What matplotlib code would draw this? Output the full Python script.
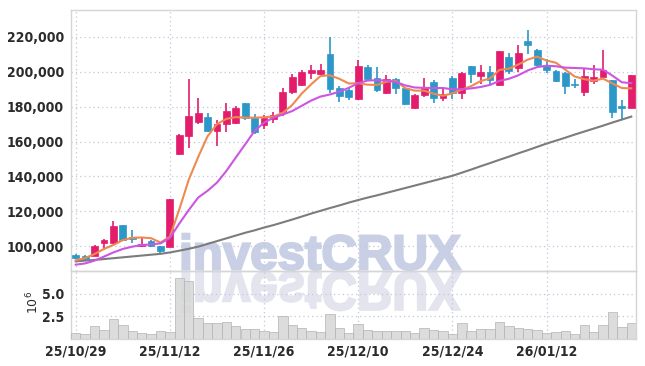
import numpy as np
import matplotlib
matplotlib.use('Agg')
import matplotlib.pyplot as plt
import matplotlib.transforms as mtransforms
from matplotlib import font_manager as fm
from matplotlib.textpath import TextPath
from matplotlib.patches import PathPatch
from matplotlib.ticker import FuncFormatter

# trading days (yy/mm/dd)
dates = ['25/10/29', '25/10/30', '25/10/31', '25/11/03', '25/11/04', '25/11/05', '25/11/06', '25/11/07',
         '25/11/10', '25/11/11', '25/11/12', '25/11/13', '25/11/14', '25/11/17', '25/11/18', '25/11/19',
         '25/11/20', '25/11/21', '25/11/24', '25/11/25', '25/11/26', '25/11/27', '25/11/28', '25/12/01',
         '25/12/02', '25/12/03', '25/12/04', '25/12/05', '25/12/08', '25/12/09', '25/12/10', '25/12/11',
         '25/12/12', '25/12/15', '25/12/16', '25/12/17', '25/12/18', '25/12/19', '25/12/22', '25/12/23',
         '25/12/24', '25/12/26', '25/12/29', '25/12/30', '26/01/02', '26/01/05', '26/01/06', '26/01/07',
         '26/01/08', '26/01/09', '26/01/12', '26/01/13', '26/01/14', '26/01/15', '26/01/16', '26/01/19',
         '26/01/20', '26/01/21', '26/01/22', '26/01/23']
tick_labels = ['25/10/29', '25/11/12', '25/11/26', '25/12/10', '25/12/24', '26/01/12']

open_ = [95000, 94400, 94400, 102000, 101500, 112200, 105300, 99800, 102600, 100000,
         99600, 153000, 163200, 171400, 174100, 166000, 169900, 170800, 181900, 173300,
         169500, 173000, 177100, 188600, 192700, 199400, 198900, 210400, 190700, 189600,
         184200, 202700, 196300, 188000, 195700, 190500, 179400, 186500, 194100, 185100,
         196300, 188000, 203300, 197600, 199900, 192600, 208500, 202300, 217600, 212300,
         203700, 200700, 199500, 193200, 188600, 194700, 197200, 195200, 180400, 179100]
high = [95400, 95000, 100500, 104000, 114100, 112300, 109200, 104600, 103500, 100200,
        127000, 164300, 195700, 184800, 176200, 172200, 181900, 180400, 182300, 176000,
        175200, 176800, 190500, 198600, 200900, 203700, 204300, 219900, 191900, 191000,
        206600, 203700, 202700, 198200, 196600, 191000, 187400, 196600, 195100, 191300,
        197600, 199900, 203500, 203700, 203600, 212000, 210600, 215200, 223800, 213200,
        207200, 200900, 199700, 195700, 202100, 203700, 212300, 195500, 183700, 198300]
low = [92800, 92000, 94000, 97700, 101000, 102800, 102000, 99600, 99500, 95800,
       99500, 152500, 156200, 170200, 165500, 157300, 165700, 170300, 172500, 164500,
       167200, 170700, 174700, 187400, 191800, 195700, 198100, 187600, 182800, 183800,
       183700, 195200, 188600, 187100, 187400, 181200, 178500, 185500, 182300, 183300,
       184200, 184200, 193700, 192800, 193200, 191800, 199000, 199900, 210500, 203300,
       199100, 194300, 187400, 190500, 186100, 192800, 197000, 173300, 172900, 179000]
close = [93100, 92500, 100200, 103600, 111500, 103400, 104200, 101100, 100200, 97300,
         126900, 163800, 174700, 176400, 166100, 169900, 177500, 179400, 173300, 165700,
         173500, 175200, 188400, 197000, 199900, 200900, 200900, 190100, 186400, 185800,
         203300, 195700, 189600, 195700, 190500, 181700, 186700, 190500, 185100, 187100,
         187800, 199300, 198900, 199900, 195200, 211900, 200700, 210600, 215300, 204200,
         201000, 194700, 192100, 192600, 197600, 197000, 200800, 177100, 179400, 198100]
volume_m = [0.58, 0.47, 1.39, 0.94, 2.17, 1.5, 0.83, 0.61, 0.5, 0.83,
            0.76, 6.69, 6.39, 2.24, 1.76, 1.76, 1.83, 1.39, 1.06, 1.06,
            0.83, 0.72, 2.5, 1.5, 1.13, 0.83, 0.72, 2.72, 1.13, 0.64,
            1.57, 0.94, 0.83, 0.83, 0.83, 0.83, 0.57, 1.13, 0.94, 0.83,
            0.46, 1.68, 0.83, 1.02, 1.02, 1.8, 1.39, 1.17, 1.06, 0.94,
            0.64, 0.72, 0.83, 0.5, 1.46, 0.76, 1.46, 2.91, 1.28, 1.68]

# moving averages
ma_short = [91800, 93100, 95400, 98300, 100600, 103400, 104700, 104900, 104500, 102000,
            105300, 121000, 138000, 151000, 163000, 170000, 173000, 174000, 173700, 173700,
            173900, 174300, 176500, 181000, 187500, 192800, 197600, 198000, 196000, 193300,
            193500, 192600, 192500, 194300, 194800, 190600, 189200, 189200, 187500, 186300,
            187600, 189800, 191800, 194700, 196200, 201100, 201800, 204200, 207000, 208700,
            206500, 205200, 201200, 197300, 195800, 194900, 196100, 193300, 190700, 190500]
ma_mid = [89300, 90000, 91600, 93900, 96300, 98300, 99600, 100600, 100900, 101500,
          104600, 112900, 120600, 127800, 131700, 136400, 143100, 150800, 158400, 166100,
          170800, 173700, 175500, 177500, 180500, 183500, 185800, 187000, 188600, 190800,
          193500, 195000, 195200, 195000, 194200, 192200, 191000, 190800, 190700, 190700,
          190000, 190000, 190500, 191300, 192500, 194800, 196000, 198000, 200800, 202700,
          203500, 203200, 202400, 202200, 202000, 201500, 201200, 197800, 194000, 193500]
ma_long = [91200, 91600, 92000, 92500, 93000, 93500, 94000, 94500, 95000, 95500,
           96300, 97300, 98400, 99600, 101200, 102800, 104400, 106000, 107600, 109000,
           110600, 112000, 113600, 115200, 116900, 118600, 120200, 121800, 123300, 124900,
           126400, 127800, 129100, 130500, 131900, 133300, 134700, 136100, 137500, 138900,
           140300, 142100, 143900, 145800, 147600, 149500, 151300, 153200, 155000, 156900,
           158800, 160500, 162200, 164000, 165700, 167400, 169100, 170900, 172600, 174300]

UP = '#e31c6b'
DOWN = '#2c97c9'
GRID = '#c3c7dc'
SPINE = '#d5d5d5'
TXT = '#2b2b2b'

# look for a condensed face for the tick labels, else plain bold sans
label_prop = None
narrow = [f for f in fm.fontManager.ttflist
          if ('Narrow' in f.name or 'Condensed' in f.name or 'condensed' in str(f.stretch))]
narrow.sort(key=lambda f: (f.style != 'normal', abs(int(f.weight if str(f.weight).isdigit() else 700) - 700)))
if narrow:
    label_prop = fm.FontProperties(fname=narrow[0].fname, size=10)
else:
    label_prop = fm.FontProperties(family='Liberation Sans', weight='bold', size=9.2)

fig = plt.figure(figsize=(6.45, 3.66), dpi=100)
fig.patch.set_facecolor('white')

# watermark with reflection, behind everything
wm_prop = fm.FontProperties(family='Liberation Sans', weight='bold')
wm_path = TextPath((0, 0), 'investCRUX', size=36, prop=wm_prop)
ext = wm_path.get_extents()
k = 2.78 / ext.width
base = mtransforms.Affine2D().translate(-ext.x0, 0)
wm_top = PathPatch(wm_path, facecolor='#c9d0e6', edgecolor='#c9d0e6', lw=1.6, zorder=-2,
                   transform=base + mtransforms.Affine2D().scale(k, k).translate(1.825, 0.965) + fig.dpi_scale_trans)
wm_bot = PathPatch(wm_path, facecolor='#e3e4ee', edgecolor='#e3e4ee', lw=1.6, zorder=-2,
                   transform=base + mtransforms.Affine2D().scale(k, -k * 1.1).translate(1.825, 0.935) + fig.dpi_scale_trans)
fig.add_artist(wm_top)
fig.add_artist(wm_bot)

ax = fig.add_axes([71 / 645, 1 - 271 / 366, 565 / 645, 261 / 366])
axv = fig.add_axes([71 / 645, 1 - 338.5 / 366, 565 / 645, 67.5 / 366], sharex=ax)

x = np.arange(len(dates))
o = np.array(open_)
c = np.array(close)
colors = np.where(c >= o, UP, DOWN)

ax.plot(x, ma_long, color='#7c7c7c', lw=1.5, zorder=2)
ax.vlines(x, low, high, colors=colors, lw=1.2, zorder=3)
ax.bar(x, np.maximum(np.abs(c - o), 500), bottom=np.minimum(o, c), width=0.72,
       color=colors, edgecolor=colors, lw=0.5, zorder=4)
ax.plot(x, ma_short, color='#ee8a50', lw=1.5, zorder=5)
ax.plot(x, ma_mid, color='#cc55e2', lw=1.5, zorder=5)

axv.bar(x, volume_m, width=1.0, color='#d6d6d6', edgecolor='#b4b4b4', lw=0.6, alpha=0.85, zorder=3)

tick_pos = [dates.index(t) for t in tick_labels]
for a in (ax, axv):
    a.set_facecolor('none')
    for s in a.spines.values():
        s.set_color(SPINE)
        s.set_linewidth(1.0)
    a.grid(True, linestyle=(0, (1, 2.5)), color=GRID, lw=0.9)
    a.set_axisbelow(True)
    a.tick_params(length=0, colors=TXT)
    a.set_xticks(tick_pos)

ax.set_xlim(-0.5, 59.5)
ax.set_ylim(85650, 235500)
ax.set_yticks(range(100000, 220001, 20000))
ax.yaxis.set_major_formatter(FuncFormatter(lambda v, p: f'{int(v):,}'))
ax.tick_params(axis='x', labelbottom=False)
ax.tick_params(axis='y', pad=5)

axv.set_ylim(0, 7.5)
axv.set_yticks([2.5, 5.0])
axv.set_yticklabels(['2.5', '5.0'])
axv.set_xticklabels(tick_labels)
axv.tick_params(axis='y', pad=5)
axv.tick_params(axis='x', pad=4)

for lab in ax.get_yticklabels() + axv.get_yticklabels() + axv.get_xticklabels():
    lab.set_fontproperties(label_prop)

fig.text(33 / 645, 1 - 302 / 366, r'$10^{6}$', rotation=90, ha='center', va='center',
         fontsize=9, color=TXT)

fig.savefig('out.png', dpi=100, facecolor='white')
